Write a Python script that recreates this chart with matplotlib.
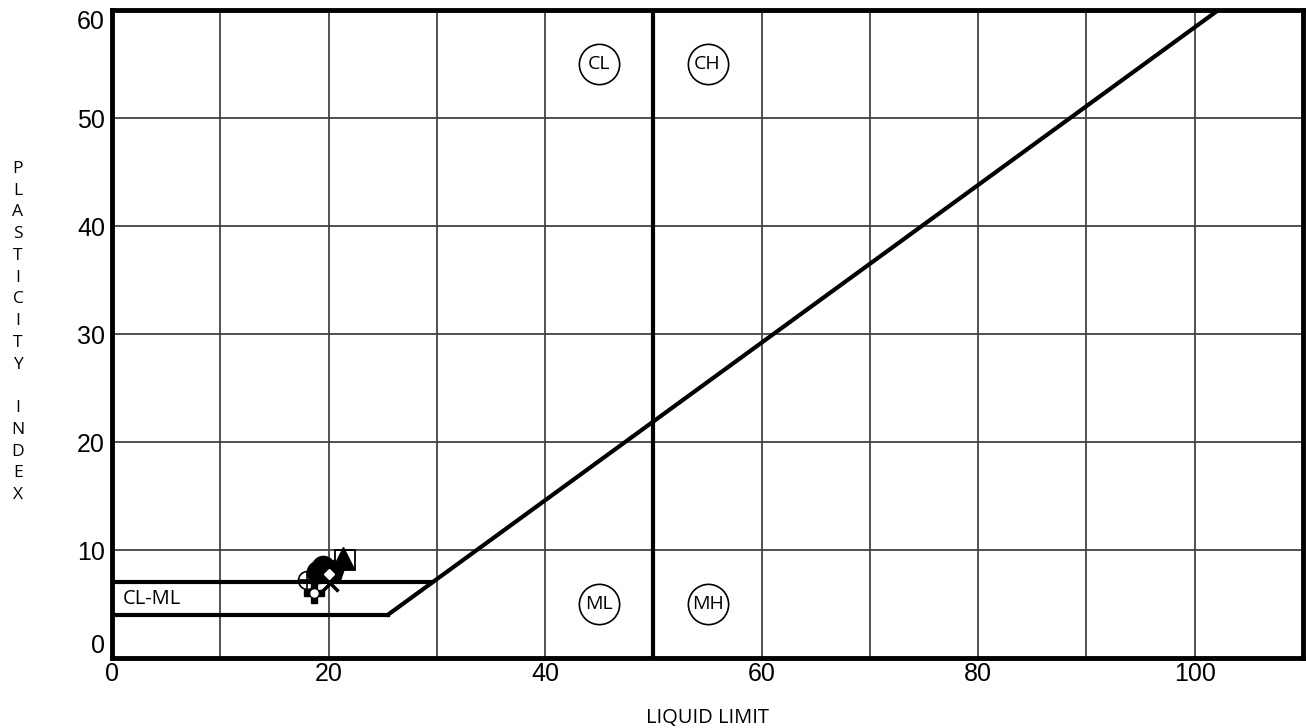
import matplotlib
matplotlib.use("Agg")
import matplotlib.pyplot as plt
import numpy as np

# Data
x_ticks = [0, 20, 40, 60, 80, 100]
y_ticks = [0, 10, 20, 30, 40, 50, 60]
zone_labels = ["CL", "CH", "ML", "MH"]
zone_x = [45, 55, 45, 55]
zone_y = [55, 55, 5, 5]

# Sample points (LL, PI, marker)
pt_ll = [18.0, 18.7, 19.0, 19.5, 20.4, 20.1, 21.5, 21.3, 20.0]
pt_pi = [7.2, 6.0, 8.0, 8.4, 8.1, 6.9, 9.1, 9.3, 7.8]
pt_mk = ["circlecross", "gear", "o", "o", "p", "x", "s", "^", "D"]

fig = plt.figure(figsize=(13.06, 7.28), dpi=100)
ax = fig.add_axes([112/1306, 70/728, (1303-112)/1306, (658-10)/728])
ax.set_xlim(0, 110)
ax.set_ylim(0, 60)

for v in range(10, 110, 10):
    ax.axvline(v, color="#444444", lw=1.3, zorder=1)
for h in range(10, 60, 10):
    ax.axhline(h, color="#444444", lw=1.3, zorder=1)

lw = 3
# A-line
a_x = np.array([25.5, 102.2])
ax.plot(a_x, 0.73 * (a_x - 20), color="black", lw=lw, zorder=3)
# CL-ML band
ax.plot([0, 25.5], [4, 4], color="black", lw=lw, zorder=3)
ax.plot([0, 29.6], [7, 7], color="black", lw=lw, zorder=3)
# LL = 50
ax.axvline(50, color="black", lw=lw, zorder=3)

ax.text(1.0, 5.5, "CL-ML", fontsize=14.5, family="Open Sans", va="center", ha="left", zorder=4)

for lab, zx, zy in zip(zone_labels, zone_x, zone_y):
    ax.plot(zx, zy, marker="o", ms=29, mfc="white", mec="black", mew=1.2, zorder=4)
    ax.text(zx, zy, lab, fontsize=14, family="Open Sans", ha="center", va="center", zorder=5)

for lx, py, mk in zip(pt_ll, pt_pi, pt_mk):
    if mk == "circlecross":
        ax.plot(lx, py, marker="o", ms=13, mfc="none", mec="black", mew=1.2, zorder=5)
        ax.plot(lx, py, marker="+", ms=13, mec="black", mew=1.2, zorder=5)
    elif mk == "gear":
        ax.plot(lx, py, marker="P", ms=15, mfc="black", mec="black", zorder=5)
        ax.plot(lx, py, marker="o", ms=5, mfc="white", mec="white", zorder=6)
    elif mk == "s":
        ax.plot(lx, py, marker="s", ms=14, mfc="none", mec="black", mew=1.3, zorder=5)
    elif mk == "x":
        ax.plot(lx, py, marker="x", ms=11, mec="black", mew=2.5, zorder=5)
    elif mk == "D":
        ax.plot(lx, py, marker="D", ms=5, mfc="white", mec="white", zorder=7)
    else:
        ax.plot(lx, py, marker=mk, ms=16, mfc="black", mec="black", zorder=5)

for s in ax.spines.values():
    s.set_linewidth(3.5)
    s.set_zorder(6)

ax.set_xticks(x_ticks)
ax.set_yticks(y_ticks)
ax.tick_params(length=0, labelsize=18)
ax.tick_params(axis="x", pad=3)
ax.tick_params(axis="y", pad=5)
for t in ax.get_xticklabels() + ax.get_yticklabels():
    t.set_family("Liberation Sans")
ylabs = ax.get_yticklabels()
ylabs[0].set_va("bottom")
ylabs[-1].set_va("top")

ax.set_xlabel("LIQUID LIMIT", fontsize=14.5, family="Open Sans", labelpad=16)
fig.text(18/1306, 1 - 332/728, "P\nL\nA\nS\nT\nI\nC\nI\nT\nY\n\nI\nN\nD\nE\nX",
         fontsize=12.5, family="Open Sans", ha="center", va="center", linespacing=1.48)

fig.savefig("out.png", dpi=100)
